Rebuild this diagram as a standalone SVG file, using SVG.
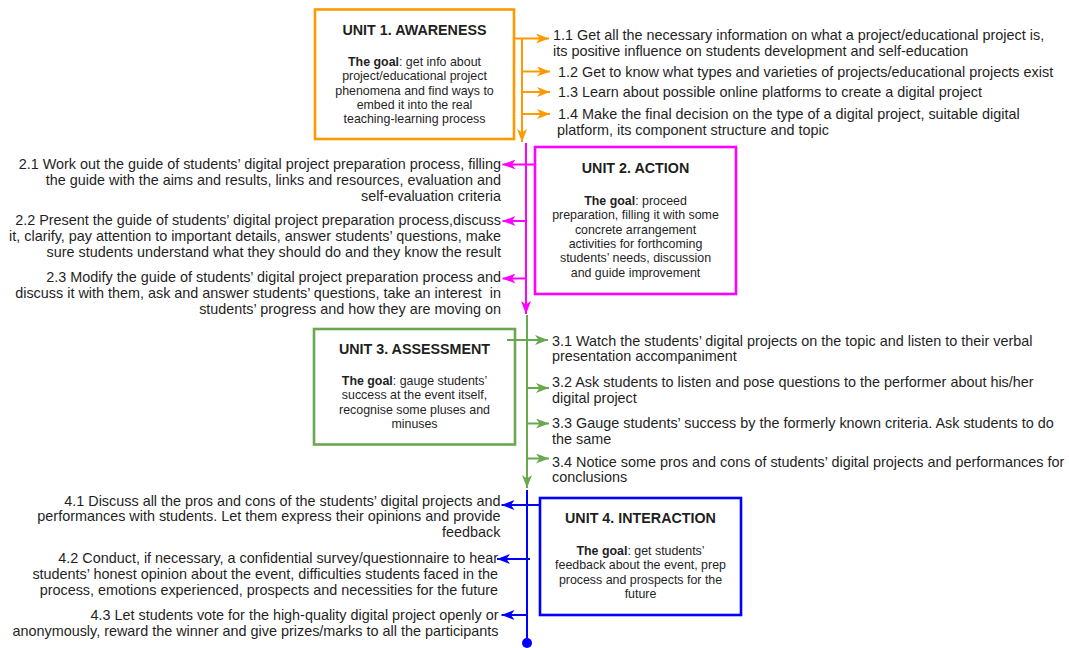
<svg xmlns="http://www.w3.org/2000/svg" width="1069" height="648" viewBox="0 0 1069 648">
<style>
.bg{fill:#ffffff}
.box{fill:#ffffff;stroke-width:2.6}
.title{font-family:"Liberation Sans",Arial,sans-serif;font-size:14.3px;font-weight:bold;fill:#1f1f1f;text-anchor:middle}
.goal{font-family:"Liberation Sans",Arial,sans-serif;font-size:12.4px;fill:#1f1f1f;text-anchor:middle}
.goal .b{font-weight:bold}
.item{font-family:"Liberation Sans",Arial,sans-serif;font-size:14.4px;fill:#1f1f1f;white-space:pre}
.r{text-anchor:end}
.ln{fill:none;stroke-width:2}
.o{stroke:#ff9900}.m{stroke:#ff00ff}.g{stroke:#6aa84f}.bl{stroke:#0000ff}
</style>
<defs>
<marker id="aO" markerUnits="userSpaceOnUse" markerWidth="13" markerHeight="10" refX="13" refY="5" orient="auto"><path d="M0,0 L13,5 L0,10 L3.5,5 Z" fill="#ff9900"/></marker>
<marker id="aM" markerUnits="userSpaceOnUse" markerWidth="13" markerHeight="10" refX="13" refY="5" orient="auto"><path d="M0,0 L13,5 L0,10 L3.5,5 Z" fill="#ff00ff"/></marker>
<marker id="aG" markerUnits="userSpaceOnUse" markerWidth="13" markerHeight="10" refX="13" refY="5" orient="auto"><path d="M0,0 L13,5 L0,10 L3.5,5 Z" fill="#6aa84f"/></marker>
<marker id="aB" markerUnits="userSpaceOnUse" markerWidth="13" markerHeight="10" refX="13" refY="5" orient="auto"><path d="M0,0 L13,5 L0,10 L3.5,5 Z" fill="#0000ff"/></marker>
</defs>
<rect class="bg" x="0" y="0" width="1069" height="648"/>

<g id="unit1">
<rect class="box" x="315" y="9.5" width="199" height="129.5" stroke="#ff9900"/>
<text class="title" x="414.5" y="35">UNIT 1. AWARENESS</text>
<text class="goal" x="414.5" y="66"><tspan class="b">The goal</tspan>: get info about</text>
<text class="goal" x="414.5" y="80.3">project/educational project</text>
<text class="goal" x="414.5" y="94.6">phenomena and find ways to</text>
<text class="goal" x="414.5" y="108.9">embed it into the real</text>
<text class="goal" x="414.5" y="123.2">teaching-learning process</text>
</g>

<g id="unit2">
<rect class="box" x="535" y="147" width="201" height="147" stroke="#ff00ff"/>
<text class="title" x="635.5" y="173.3">UNIT 2. ACTION</text>
<text class="goal" x="635.5" y="205"><tspan class="b">The goal</tspan>: proceed</text>
<text class="goal" x="635.5" y="219.3">preparation, filling it with some</text>
<text class="goal" x="635.5" y="233.6">concrete arrangement</text>
<text class="goal" x="635.5" y="247.9">activities for forthcoming</text>
<text class="goal" x="635.5" y="262.2">students’ needs, discussion</text>
<text class="goal" x="635.5" y="276.5">and guide improvement</text>
</g>

<g id="unit3">
<rect class="box" x="314" y="329" width="201" height="115.5" stroke="#6aa84f"/>
<text class="title" x="414.5" y="354">UNIT 3. ASSESSMENT</text>
<text class="goal" x="414.5" y="385"><tspan class="b">The goal</tspan>: gauge students’</text>
<text class="goal" x="414.5" y="399.3">success at the event itself,</text>
<text class="goal" x="414.5" y="413.6">recognise some pluses and</text>
<text class="goal" x="414.5" y="427.9">minuses</text>
</g>

<g id="unit4">
<rect class="box" x="540" y="498" width="201" height="117" stroke="#0000ff"/>
<text class="title" x="640.5" y="523.3">UNIT 4. INTERACTION</text>
<text class="goal" x="640.5" y="555"><tspan class="b">The goal</tspan>: get students’</text>
<text class="goal" x="640.5" y="569.3">feedback about the event, prep</text>
<text class="goal" x="640.5" y="583.6">process and prospects for the</text>
<text class="goal" x="640.5" y="597.9">future</text>
</g>

<g id="items1">
<text class="item" x="553" y="39.5">1.1 Get all the necessary information on what a project/educational project is,</text>
<text class="item" x="553" y="56">its positive influence on students development and self-education</text>
<text class="item" x="558" y="76.5">1.2 Get to know what types and varieties of projects/educational projects exist</text>
<text class="item" x="558" y="97">1.3 Learn about possible online platforms to create a digital project</text>
<text class="item" x="558" y="118.5">1.4 Make the final decision on the type of a digital project, suitable digital</text>
<text class="item" x="557" y="134.5">platform, its component structure and topic</text>
</g>

<g id="items2">
<text class="item r" x="501" y="168.5">2.1 Work out the guide of students’ digital project preparation process, filling</text>
<text class="item r" x="501" y="184.5">the guide with the aims and results, links and resources, evaluation and</text>
<text class="item r" x="501" y="200.5">self-evaluation criteria</text>
<text class="item r" x="501" y="225">2.2 Present the guide of students’ digital project preparation process,discuss</text>
<text class="item r" x="501" y="241">it, clarify, pay attention to important details, answer students’ questions, make</text>
<text class="item r" x="501" y="257">sure students understand what they should do and they know the result</text>
<text class="item r" x="501" y="281.5">2.3 Modify the guide of students’ digital project preparation process and</text>
<text class="item r" x="501" y="297.5">discuss it with them, ask and answer students’ questions, take an interest  in</text>
<text class="item r" x="501" y="313.5">students’ progress and how they are moving on</text>
</g>

<g id="items3">
<text class="item" x="552" y="345.5">3.1 Watch the students’ digital projects on the topic and listen to their verbal</text>
<text class="item" x="552" y="361">presentation accompaniment</text>
<text class="item" x="552" y="387">3.2 Ask students to listen and pose questions to the performer about his/her</text>
<text class="item" x="552" y="403">digital project</text>
<text class="item" x="552" y="428">3.3 Gauge students’ success by the formerly known criteria. Ask students to do</text>
<text class="item" x="552" y="444">the same</text>
<text class="item" x="552" y="466.5">3.4 Notice some pros and cons of students’ digital projects and performances for</text>
<text class="item" x="552" y="482">conclusions</text>
</g>

<g id="items4">
<text class="item r" x="500.5" y="505.5">4.1 Discuss all the pros and cons of the students’ digital projects and</text>
<text class="item r" x="500.5" y="521">performances with students. Let them express their opinions and provide</text>
<text class="item r" x="500.5" y="537">feedback</text>
<text class="item r" x="498" y="563">4.2 Conduct, if necessary, a confidential survey/questionnaire to hear</text>
<text class="item r" x="498" y="579">students’ honest opinion about the event, difficulties students faced in the</text>
<text class="item r" x="498" y="595">process, emotions experienced, prospects and necessities for the future</text>
<text class="item r" x="498.5" y="619.5">4.3 Let students vote for the high-quality digital project openly or</text>
<text class="item r" x="498.5" y="636">anonymously, reward the winner and give prizes/marks to all the participants</text>
</g>

<g id="connectors">
<path class="ln o" d="M514,38.5 H549" marker-end="url(#aO)"/>
<path class="ln o" d="M522,38.5 V142" marker-end="url(#aO)"/>
<path class="ln o" d="M522,71.5 H550" marker-end="url(#aO)"/>
<path class="ln o" d="M522,92 H550" marker-end="url(#aO)"/>
<path class="ln o" d="M522,114 H550" marker-end="url(#aO)"/>

<path class="ln m" d="M526,143 V314" marker-end="url(#aM)"/>
<path class="ln m" d="M535,164.5 H502.5" marker-end="url(#aM)"/>
<path class="ln m" d="M526,221 H502.5" marker-end="url(#aM)"/>
<path class="ln m" d="M526,278.5 H502.5" marker-end="url(#aM)"/>

<path class="ln g" d="M527,315 V488" marker-end="url(#aG)"/>
<path class="ln g" d="M507,340 H548" marker-end="url(#aG)"/>
<path class="ln g" d="M527,388 H549" marker-end="url(#aG)"/>
<path class="ln g" d="M527,423.5 H549" marker-end="url(#aG)"/>
<path class="ln g" d="M527,458.5 H549" marker-end="url(#aG)"/>

<path class="ln bl" d="M527,490 V643"/>
<circle cx="527" cy="643" r="5" fill="#0000ff"/>
<path class="ln bl" d="M540,505 H501.5" marker-end="url(#aB)"/>
<path class="ln bl" d="M530,559 H497" marker-end="url(#aB)"/>
<path class="ln bl" d="M527,615 H501.5" marker-end="url(#aB)"/>
</g>
</svg>
